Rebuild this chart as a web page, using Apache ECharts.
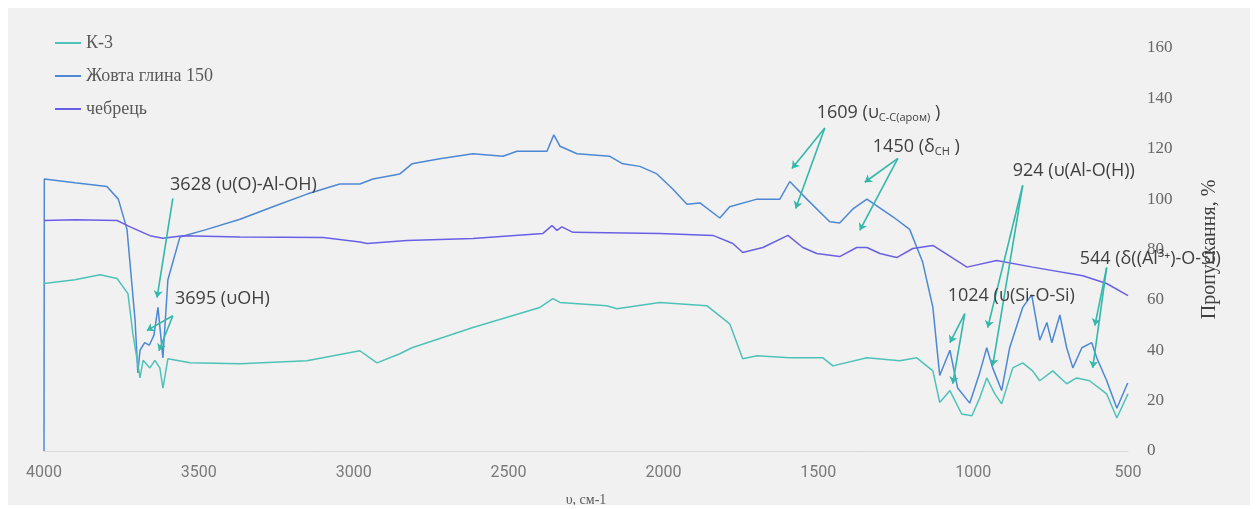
<!DOCTYPE html>
<html>
<head>
<meta charset="utf-8">
<script src="https://cdn.jsdelivr.net/npm/echarts@6/dist/echarts.min.js"></script>
<style>
  html, body { margin: 0; padding: 0; background: #ffffff; }
  #chart { position: absolute; left: 8px; top: 8px; width: 1242px; height: 497px; background: #f1f1f1; }
</style>
</head>
<body>
<div id="chart"></div>
<script>
// ІЧ-спектри: хвильове число (см-1) / пропускання (%)
var seriesNames = ['К-3', 'Жовта глина 150', 'чебрець'];
var xTicks = [4000, 3500, 3000, 2500, 2000, 1500, 1000, 500];

var k3 = [
  [4000, 66.5], [3900, 68], [3819, 70], [3764, 68.5], [3729, 62.5], [3713, 46.6], [3690, 29],
  [3680, 36], [3658, 33], [3642, 36], [3626, 33], [3616, 25], [3600, 36.6], [3529, 35],
  [3367, 34.6], [3151, 35.8], [2980, 39.8], [2925, 35], [2851, 38.6], [2812, 41], [2615, 49],
  [2399, 57], [2357, 60.5], [2334, 59], [2183, 57.7], [2150, 56.5], [2012, 59], [1860, 57.7],
  [1786, 50.5], [1744, 36.6], [1698, 37.8], [1592, 37], [1485, 37], [1453, 33.8], [1343, 37],
  [1237, 35.8], [1182, 37], [1130, 31.8], [1108, 19.3], [1075, 24], [1037, 14.7], [1004, 14],
  [979, 21], [956, 29], [930, 22.7], [908, 18.7], [872, 33], [840, 35], [808, 31.8], [785, 27.9],
  [743, 31.8], [698, 26.7], [666, 29], [624, 27.9], [569, 22.7], [536, 13.1], [500, 22.7]
];

var zhovta = [
  [4000, 0], [3999, 108], [3900, 106.5], [3797, 105], [3760, 100], [3732, 88], [3706, 52],
  [3697, 31], [3690, 40], [3675, 43], [3660, 42], [3645, 46], [3632, 57], [3616, 37], [3600, 68],
  [3561, 85], [3474, 88], [3367, 92], [3261, 97], [3151, 102], [3045, 106], [2980, 106],
  [2938, 108], [2851, 110], [2812, 114], [2722, 116], [2615, 118], [2518, 117], [2473, 119],
  [2376, 119], [2354, 125.5], [2334, 121], [2279, 118], [2173, 117], [2131, 114], [2076, 113],
  [2021, 110], [1970, 104], [1924, 98], [1882, 98.5], [1818, 92.5], [1786, 97], [1698, 100],
  [1624, 100], [1592, 107], [1537, 100], [1463, 91], [1431, 90.5], [1389, 96], [1343, 100],
  [1259, 93], [1205, 88], [1163, 75], [1130, 57], [1108, 30], [1075, 40], [1050, 25], [1011, 19],
  [979, 31], [956, 41], [937, 33], [908, 24], [882, 41], [840, 57], [811, 62], [785, 44],
  [762, 51], [746, 43], [720, 54], [698, 41], [678, 33], [649, 41], [617, 43], [601, 37],
  [569, 28], [536, 17], [501, 27]
];

var chebrets = [
  [4000, 91.5], [3900, 91.8], [3764, 91.5], [3722, 89], [3658, 85.5], [3616, 84.5], [3551, 85.5],
  [3367, 85], [3099, 84.8], [2980, 83], [2957, 82.4], [2828, 83.6], [2615, 84.4], [2389, 86.4],
  [2360, 89.5], [2344, 87.6], [2328, 89], [2292, 86.8], [2012, 86.4], [1840, 85.6], [1776, 82.4],
  [1744, 78.8], [1679, 80.8], [1598, 85.6], [1550, 80.8], [1505, 78.4], [1431, 77.2], [1376, 80.8],
  [1343, 80.8], [1301, 78.4], [1247, 76.8], [1195, 80.4], [1130, 81.6], [1020, 73], [924, 75.6],
  [808, 73], [646, 69.6], [569, 66.5], [500, 61.7]
];

// підписи смуг: [хвильове число, значення] лівого краю тексту
var peakLabels = [
  { text: '3628 (υ(O)-Al-OH)', at: [3593, 105.5] },
  { text: '3695 (υOH)', at: [3577, 60.5] },
  { text: '1609 (υ{sub|C-C(аром)} )', at: [1505, 134.1] },
  { text: '1450 (δ{sub|CH} )', at: [1324, 120.6] },
  { text: '924 (υ(Al-O(H))', at: [872, 111.4] },
  { text: '544 (δ((Al³⁺)-O-Si)', at: [656, 76.4] },
  { text: '1024 (υ(Si-O-Si)', at: [1082, 61.7] }
];

// стрілки: [початок, кінець]
var peakArrows = [
  [[3584, 100.3], [3635, 60.9]],
  [[3584, 53.7], [3668, 47.8]],
  [[3584, 53.7], [3629, 39.8]],
  [[1479, 128.2], [1585, 112.2]],
  [[1479, 128.2], [1573, 96.3]],
  [[1243, 116.2], [1350, 106.7]],
  [[1243, 116.2], [1366, 87.6]],
  [[840, 105.5], [953, 49]],
  [[840, 105.5], [937, 33.8]],
  [[569, 72.8], [607, 49.8]],
  [[569, 72.8], [614, 33]],
  [[1027, 54.5], [1075, 43]],
  [[1027, 54.5], [1066, 26.7]]
];

var colors = ['#4fc2b7', '#4c88d4', '#6a5fe4'];
var serif = '"Liberation Serif", "DejaVu Serif", serif';
var sans = '"Open Sans", "DejaVu Sans", sans-serif';

var myChart = echarts.init(document.getElementById('chart'));

option = {
    backgroundColor: '#f1f1f1',
    animation: false,
    color: colors,
    legend: {
        orient: 'vertical',
        left: 42,
        top: 21,
        itemGap: 15,
        itemWidth: 26,
        itemHeight: 2,
        icon: 'rect',
        textStyle: {
            fontFamily: serif,
            fontSize: 18,
            color: '#595959'
        },
        data: seriesNames
    },
    grid: {
        left: 36,
        right: 122,
        top: 40,
        bottom: 54,
        outerBoundsMode: 'none'
    },
    xAxis: {
        type: 'value',
        inverse: true,
        min: 500,
        max: 4000,
        interval: 500,
        name: 'υ, см-1',
        nameLocation: 'middle',
        nameGap: 42,
        nameTextStyle: { fontFamily: serif, fontSize: 14, color: '#595959' },
        axisLine: { lineStyle: { color: '#d9d9d9', width: 1 } },
        axisTick: { show: false },
        splitLine: { show: false },
        axisLabel: {
            fontFamily: 'Roboto, sans-serif',
            fontSize: 16,
            color: '#7a7a7a',
            margin: 14,
            formatter: function (v) { return String(v); }
        }
    },
    yAxis: {
        type: 'value',
        position: 'right',
        min: 0,
        max: 160,
        interval: 20,
        name: 'Пропускання, %',
        nameLocation: 'middle',
        nameRotate: 90,
        nameGap: 72,
        nameTextStyle: { fontFamily: serif, fontSize: 20, color: '#404040' },
        axisLine: { show: false },
        axisTick: { show: false },
        splitLine: { show: false },
        axisLabel: {
            fontFamily: serif,
            fontSize: 17,
            color: '#666666',
            margin: 19
        }
    },
    series: [
        {
            name: seriesNames[0],
            type: 'line',
            showSymbol: false,
            lineStyle: { width: 1.5 },
            data: k3,
            z: 3,
            markLine: {
                silent: true,
                symbol: ['none', 'arrow'],
                symbolSize: 7,
                label: { show: false },
                lineStyle: { color: '#33b8aa', width: 1.6, type: 'solid' },
                emphasis: { disabled: true },
                data: peakArrows.map(function (a) {
                    return [{ coord: a[0] }, { coord: a[1] }];
                })
            },
            markPoint: {
                silent: true,
                symbol: 'circle',
                symbolSize: 0,
                data: peakLabels.map(function (p) {
                    return {
                        coord: p.at,
                        label: {
                            show: true,
                            position: 'right',
                            distance: 0,
                            formatter: p.text,
                            fontFamily: sans,
                            fontSize: 18,
                            color: '#404040',
                            rich: {
                                sub: {
                                    fontFamily: sans,
                                    fontSize: 11,
                                    color: '#404040',
                                    padding: [9, 0, 0, 0]
                                }
                            }
                        }
                    };
                })
            }
        },
        {
            name: seriesNames[1],
            type: 'line',
            showSymbol: false,
            lineStyle: { width: 1.5 },
            data: zhovta,
            z: 2
        },
        {
            name: seriesNames[2],
            type: 'line',
            showSymbol: false,
            lineStyle: { width: 1.5 },
            data: chebrets,
            z: 2
        }
    ]
};

myChart.setOption(option);
</script>
</body>
</html>
